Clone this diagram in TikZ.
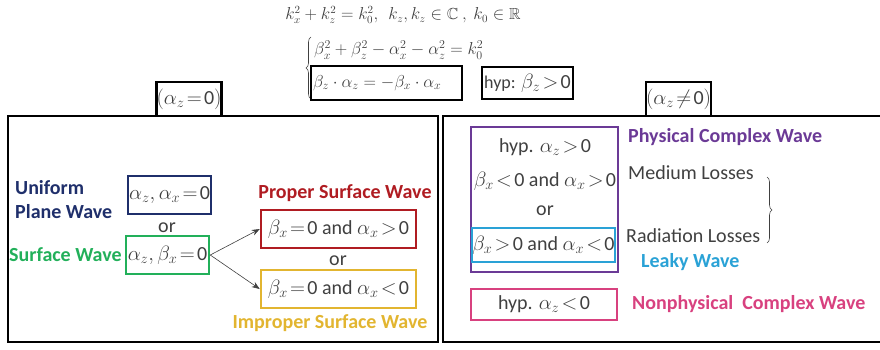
\documentclass[tikz,border=0pt]{standalone}
\usepackage{amsmath,amssymb}
\usepackage{fontspec}
\setmainfont{Carlito}
\usetikzlibrary{arrows.meta,decorations.pathreplacing}
\definecolor{navy}{HTML}{1F2F6B}
\definecolor{sgreen}{HTML}{22B05A}
\definecolor{pred}{HTML}{B01C22}
\definecolor{gold}{HTML}{E2B530}
\definecolor{purp}{HTML}{6B3A96}
\definecolor{lblue}{HTML}{2AA2D6}
\definecolor{pinkc}{HTML}{D8417F}
\definecolor{txt}{HTML}{404040}
\newcommand\mth[1]{{\fontsize{20}{23}\selectfont\thickmuskip=2mu\medmuskip=2mu$#1$}}
\newcommand\zr{\text{0}}
\tikzset{
  every node/.style={font=\fontsize{20}{24}\selectfont, text=txt, inner sep=0pt},
  frame/.style={draw=black, line width=2.5pt},
  cbox/.style={draw=#1, line width=2.5pt, fill=white},
  lab/.style={font=\fontsize{20}{24}\selectfont\bfseries, text=#1, anchor=west, align=left},
  conn/.style={draw=txt, line width=0.6pt, -{Stealth[length=8pt,width=6pt]}},
}
\begin{document}
\begin{tikzpicture}[x=1pt,y=-1pt]
\useasboundingbox (0,0) rectangle (880,349);
% top equations
\node (keq) at (403,15) {\fontsize{16}{19}\selectfont $k_x^2+k_z^2=k_0^2,\ \ k_z,k_z\in\mathbb{C}\ ,\ k_0\in\mathbb{R}$};
\node[anchor=west] (sys1) at (314,50) {\fontsize{18}{20}\selectfont $\beta_x^2+\beta_z^2-\alpha_x^2-\alpha_z^2=k_0^2$};
\draw[line width=0.6pt, draw=txt, decorate, decoration={brace, amplitude=5pt}] (311,99) -- (311,37);
\node[frame, minimum height=34pt, text width=147pt, inner xsep=2pt, align=left] (sys2) at (386.5,83) {\fontsize{18}{20}\selectfont $\beta_z\cdot\alpha_z=-\beta_x\cdot\alpha_x$};
\node[frame, minimum width=91pt, minimum height=32pt] (hyp) at (527.5,83) {\fontsize{18}{20}\selectfont hyp: \mth{\beta_z>\zr}};

% frames
\draw[frame] (8,116) rectangle (438,342);
\draw[frame] (443,116) rectangle (895,342);
\node[frame, fill=white, minimum width=62pt, minimum height=34pt] (az0) at (189,99) {\mth{(\alpha_z=\zr)}};
\node[frame, fill=white, minimum width=63pt, minimum height=34pt] (azn) at (678.5,99) {\mth{(\alpha_z\neq\zr)}};

% left panel
\node[lab=navy] (upw) at (15,200) {Uniform\\Plane Wave};
\node[cbox=navy, minimum width=83pt, minimum height=38pt] (ub) at (169.5,195) {\mth{\alpha_z,\alpha_x=\zr}};
\node (or1) at (167,228) {or};
\node[lab=sgreen] (swl) at (9,255) {Surface Wave};
\node[cbox=sgreen, minimum width=83pt, minimum height=38pt] (sb) at (167.5,255) {\mth{\alpha_z,\beta_x=\zr}};
\node[font=\fontsize{20}{24}\selectfont\bfseries, text=pred] (pswl) at (345,193) {Proper Surface Wave};
\node[cbox=pred, minimum width=155pt, minimum height=38pt] (pb) at (338.5,229) {\mth{\beta_x=\zr} and \mth{\alpha_x>\zr}};
\node (or2) at (338,261) {or};
\node[cbox=gold, minimum width=155pt, minimum height=38pt] (ib) at (338.5,289) {\mth{\beta_x=\zr} and \mth{\alpha_x<\zr}};
\node[font=\fontsize{20}{24}\selectfont\bfseries, text=gold] (iswl) at (330,323) {Improper Surface Wave};
\draw[conn] (sb.east) -- (pb.west);
\draw[conn] (sb.east) -- (ib.west);

% right panel
\node[cbox=purp, minimum width=147pt, minimum height=145pt] (pcb) at (544.5,199.5) {};
\node (h1) at (545,147) {hyp. \mth{\alpha_z>\zr}};
\node (c1) at (545,181) {\mth{\beta_x<\zr} and \mth{\alpha_x>\zr}};
\node (or3) at (545,211) {or};
\node[cbox=lblue, line width=2pt, minimum width=139pt, minimum height=34pt] (lb) at (543.5,245) {\mth{\beta_x>\zr} and \mth{\alpha_x<\zr}};
\node[cbox=pinkc, minimum width=146pt, minimum height=31pt] (nb) at (544,304.5) {hyp. \mth{\alpha_z<\zr}};
\node[lab=purp] (pcw) at (628,137) {Physical Complex Wave};
\node[anchor=west] (ml) at (628,173) {Medium Losses};
\node[anchor=west] (rl) at (626,236) {Radiation Losses};
\draw[line width=0.6pt, draw=txt, decorate, decoration={brace, amplitude=5pt}] (767,177) -- (767,243);
\node[lab=lblue] (lw) at (641,262) {Leaky Wave};
\node[lab=pinkc] (ncw) at (632,304) {Nonphysical\ \ Complex Wave};
\end{tikzpicture}
\end{document}
